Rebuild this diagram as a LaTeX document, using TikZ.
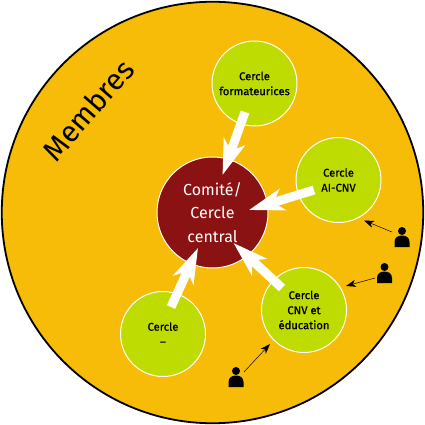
\documentclass[tikz,border=0pt]{standalone}
\usepackage{fontspec}
\setmainfont{Fira Sans}
\usetikzlibrary{arrows.meta}
\definecolor{orangebg}{HTML}{F6BC08}
\definecolor{redc}{HTML}{8B1212}
\definecolor{greenc}{HTML}{BEDB02}
\tikzset{
  x=1pt,y=-1pt,
  outer/.style={circle,draw=black,line width=1.8pt,fill=orangebg,minimum size=421.5pt,inner sep=0pt},
  central/.style={circle,draw=white,line width=1pt,fill=redc,minimum size=111pt,inner sep=0pt,text=white,align=center,font=\fontsize{16}{23.5}\selectfont},
  sub/.style={circle,draw=white,line width=1pt,fill=greenc,minimum size=85pt,inner sep=0pt,text=black,align=center,font=\fontsize{11.2}{15}\selectfont\addfontfeature{FakeBold=0.8}},
  bigarrow/.style={draw=white,line width=9pt,-{Stealth[length=35pt,width=22pt,inset=9.5pt]}},
  smallarrow/.style={draw=black,line width=0.5pt,-{Stealth[length=10pt,width=7pt,inset=3pt]}},
  head/.style={circle,fill=black,minimum size=8pt,inner sep=0pt},
}
\newcommand{\personbody}[2]{\fill[black] (#1-7.5,#2+16) -- (#1-7.5,#2+11) .. controls (#1-7.5,#2+6.5) and (#1-4,#2+4.5) .. (#1,#2+4.5) .. controls (#1+4,#2+4.5) and (#1+7.5,#2+6.5) .. (#1+7.5,#2+11) -- (#1+7.5,#2+16) -- cycle;}
\begin{document}
\begin{tikzpicture}
\useasboundingbox (0,0) rectangle (425,425);
\node[outer] (members) at (212.5,212.5) {};
\node[font=\fontsize{29.5}{30}\selectfont,rotate=49] (membres) at (88,110) {Membres};
\node[central] (comite) at (212.5,212.5) {Comité/\\Cercle\\central};
\node[sub] (form) at (254.5,83.5) {Cercle\\formateurices};
\node[sub] (ai) at (338.5,180) {Cercle\\AI-CNV};
\node[sub] (cnv) at (304,310) {Cercle\\CNV et\\éducation};
\node[sub] (tiret) at (163,334) {Cercle\\--};
\coordinate (f0) at (245,112);
\coordinate (f1) at (222.5,175);
\coordinate (a0) at (314,190);
\coordinate (a1) at (249,210);
\coordinate (c0) at (282,288);
\coordinate (c1) at (233.5,243);
\coordinate (t0) at (171,307);
\coordinate (t1) at (198,248);
\draw[bigarrow] (f0) -- (f1);
\draw[bigarrow] (a0) -- (a1);
\draw[bigarrow] (c0) -- (c1);
\draw[bigarrow] (t0) -- (t1);
\node[head] (p1) at (402,231) {};
\node[head] (p2) at (384.5,267) {};
\node[head] (p3) at (236,371) {};
\personbody{402}{231}
\personbody{384.5}{267}
\personbody{236}{371}
\coordinate (s1) at (364,220.5);
\coordinate (s2) at (346,286);
\coordinate (s3) at (270,344);
\draw[smallarrow] (392,232) -- (s1);
\draw[smallarrow] (375,278) -- (s2);
\draw[smallarrow] (244,372) -- (s3);
\end{tikzpicture}
\end{document}
